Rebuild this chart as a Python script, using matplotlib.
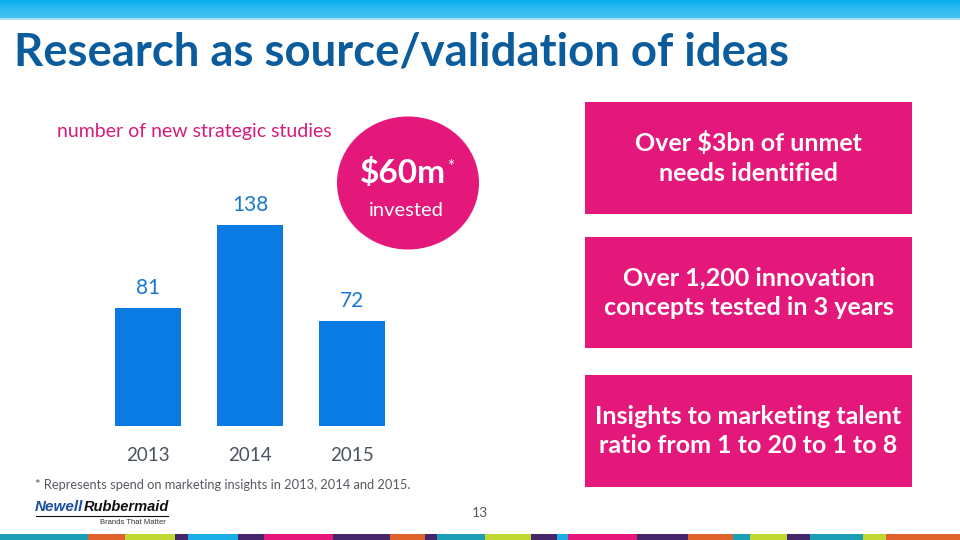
import numpy as np
import matplotlib.pyplot as plt
from matplotlib.patches import Rectangle, Ellipse
from matplotlib.colors import LinearSegmentedColormap

plt.rcParams['font.family'] = ['Lato', 'DejaVu Sans']

# chart data
years = ['2013', '2014', '2015']
studies = [81, 138, 72]

title = 'Research as source/validation of ideas'
subtitle = 'number of new strategic studies'
box_texts = ['Over $3bn of unmet\nneeds identified',
             'Over 1,200 innovation\nconcepts tested in 3 years',
             'Insights to marketing talent\nratio from 1 to 20 to 1 to 8']
footnote = '* Represents spend on marketing insights in 2013, 2014 and 2015.'

# bottom stripe pieces (x start, x end, colour)
stripe = [(0, 88, '#1a9fb5'), (88, 125, '#e0622a'), (125, 175, '#bfd730'),
          (175, 188, '#45266b'), (188, 238, '#1aaee8'), (238, 264, '#45266b'),
          (264, 333, '#e5177a'), (333, 390, '#45266b'), (390, 425, '#e0622a'),
          (425, 437, '#45266b'), (437, 485, '#1a9fb5'), (485, 531, '#bfd730'),
          (531, 557, '#45266b'), (557, 568, '#1aaee8'), (568, 637, '#e5177a'),
          (637, 688, '#45266b'), (688, 733, '#e0622a'), (733, 750, '#1a9fb5'),
          (750, 787, '#bfd730'), (787, 810, '#45266b'), (810, 863, '#1a9fb5'),
          (863, 886, '#bfd730'), (886, 960, '#e0622a')]

pink = '#e4177a'
bar_blue = '#0a7be3'

fig = plt.figure(figsize=(9.6, 5.4), dpi=100)

# background axes in pixel coordinates
bg = fig.add_axes([0, 0, 1, 1])
bg.set_xlim(0, 960)
bg.set_ylim(540, 0)
bg.axis('off')

# top gradient band
grad = np.linspace(0, 1, 50).reshape(-1, 1)
cm = LinearSegmentedColormap.from_list('band', ['#05aeee', '#2fbaf0', '#45c2f2'])
bg.imshow(grad, cmap=cm, extent=[0, 960, 18, 0], aspect='auto')
bg.add_patch(Rectangle((0, 18), 960, 1.5, color='#a8e2f8', lw=0))

bg.text(14, 52, title, fontsize=32.8, fontweight='bold', color='#0b5c9c',
        va='center', ha='left')
bg.text(57, 131, subtitle, fontsize=14, color='#d61b7d', va='center')

# circle
bg.add_patch(Ellipse((408, 183), 142, 133, color=pink, lw=0))
bg.text(403, 173, '$60m', fontsize=24, fontweight='bold', color='white',
        ha='center', va='center')
bg.text(451, 167, '*', fontsize=12, color='white', ha='center', va='center')
bg.text(406, 210, 'invested', fontsize=14.5, color='white', ha='center', va='center')

# right boxes
box_y = [(102, 214), (237, 348), (375, 487)]
for (y0, y1), txt in zip(box_y, box_texts):
    bg.add_patch(Rectangle((585, y0), 327, y1 - y0, color=pink, lw=0))
    bg.text(748.5, (y0 + y1) / 2, txt, fontsize=18, fontweight='bold',
            color='white', ha='center', va='center', linespacing=1.32)

bg.text(35, 485, footnote, fontsize=9.3, color='#555a60', va='center')
bg.text(480, 513, '13', fontsize=10, color='#555a60', ha='center', va='center')

# logo
bg.text(35, 507, 'Newell', fontsize=11, fontweight='bold', style='italic',
        color='#1b4fa0', va='center', family=['Liberation Sans'])
bg.text(84, 507, 'Rubbermaid', fontsize=10.5, fontweight='bold', style='italic',
        color='#111111', va='center', family=['Liberation Sans'])
bg.plot([36, 168], [516, 516], color='#111111', lw=0.8)
bg.text(100, 522, 'Brands That Matter', fontsize=5.5, color='#333333', va='center',
        family=['Liberation Sans'])

for x0, x1, c in stripe:
    bg.add_patch(Rectangle((x0, 534), x1 - x0, 6, color=c, lw=0))

# bar chart axes
px_per_unit = 1.457
ax_left = 148 - 51.1
ax_w = 3 * 102.2
ax_bottom = 540 - 425.7
ax_h = 150 * px_per_unit
ax = fig.add_axes([ax_left / 960, ax_bottom / 540, ax_w / 960, ax_h / 540])
x = np.arange(len(years))
ax.bar(x, studies, width=0.646, color=bar_blue)
for xi, v in zip(x, studies):
    ax.text(xi, v + 13.5, str(v), ha='center', va='center', fontsize=15,
            color='#1a78d2')
ax.set_xlim(-0.5, 2.5)
ax.set_ylim(0, 150)
ax.set_xticks(x)
ax.set_xticklabels(years, fontsize=13.5, color='#4a5260')
ax.tick_params(length=0, pad=15)
ax.set_yticks([])
for s in ax.spines.values():
    s.set_visible(False)
ax.patch.set_alpha(0)

fig.savefig('out.png', dpi=100)
